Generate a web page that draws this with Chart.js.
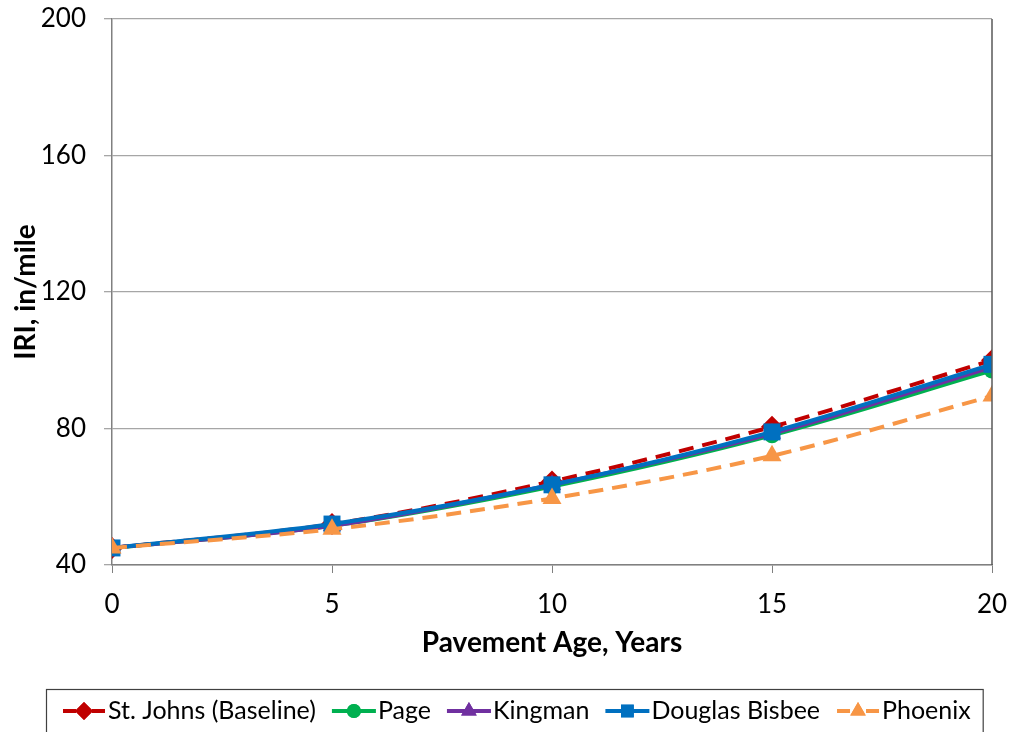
<!DOCTYPE html>
<html>
<head>
<meta charset="utf-8">
<script src="https://cdn.jsdelivr.net/npm/chart.js@4.4.1/dist/chart.umd.min.js"></script>
<style>
  html, body { margin: 0; padding: 0; background: #fff; }
  #wrap { width: 1010px; height: 732px; }
</style>
</head>
<body>
<div id="wrap"><canvas id="myChart" width="1010" height="732"></canvas></div>
<script>
'use strict';

// pavement age, years
let ages = [0, 5, 10, 15, 20];

// IRI values (in/mile)
let stJohns = [45, 52, 64.5, 80.5, 100];
let page = [45, 51.5, 63, 78, 97];
let kingman = [45, 51.5, 63.5, 78.5, 98];
let douglasBisbee = [45, 52, 63.5, 79, 98.8];
let phoenix = [45, 50.5, 59.5, 72, 89.5];

let yTicks = [40, 80, 120, 160, 200];
let xTicks = [0, 5, 10, 15, 20];

const FONT = 'Lato, "Open Sans", sans-serif';

function toPoints(values) {
  let pts = [];
  for (let i = 0; i < ages.length; i++) {
    pts.push({ x: ages[i], y: values[i] });
  }
  return pts;
}

function makeSet(label, values, color, marker, dashed, order, radius) {
  return {
    label: label,
    data: toPoints(values),
    borderColor: color,
    backgroundColor: color,
    borderWidth: 4,
    borderDash: dashed ? [15, 9] : [],
    pointStyle: marker,
    pointRadius: radius,
    pointBorderWidth: 0,
    cubicInterpolationMode: 'monotone',
    order: order,
    dashed: dashed
  };
}

const datasets = [
  makeSet('St. Johns (Baseline)', stJohns, '#C00000', 'rectRot', true, 4, 11),
  makeSet('Page', page, '#00B050', 'circle', false, 3, 8),
  makeSet('Kingman', kingman, '#7030A0', 'triangle', false, 2, 10.5),
  makeSet('Douglas Bisbee', douglasBisbee, '#0070C0', 'rect', false, 1, 12),
  makeSet('Phoenix', phoenix, '#F79646', 'triangle', true, 0, 11)
];

// legend marker: short line with the point in the middle
function drawIcon(ctx, x, y, ds) {
  ctx.save();
  ctx.strokeStyle = ds.borderColor;
  ctx.fillStyle = ds.borderColor;
  ctx.lineWidth = 4;
  ctx.beginPath();
  if (ds.dashed) {
    ctx.moveTo(x + 1, y); ctx.lineTo(x + 14, y);
    ctx.moveTo(x + 30, y); ctx.lineTo(x + 43, y);
  } else {
    ctx.moveTo(x, y); ctx.lineTo(x + 44, y);
  }
  ctx.stroke();
  ctx.restore();
  Chart.helpers.drawPoint(ctx, {
    pointStyle: ds.pointStyle,
    radius: ds.pointStyle === 'circle' ? 7 : 9,
    borderWidth: 0,
    rotation: 0
  }, x + 22, y);
  ctx.fill();
}

// right side border + hand drawn boxed legend
const framePlugin = {
  id: 'frame',
  afterDraw(chart) {
    const ctx = chart.ctx;
    const a = chart.chartArea;
    ctx.save();
    ctx.strokeStyle = '#595959';
    ctx.lineWidth = 1.5;
    ctx.beginPath();
    ctx.moveTo(a.right, a.top);
    ctx.lineTo(a.right, a.bottom);
    ctx.stroke();

    let rowY = 711;
    let x = 62;
    ctx.font = '25px ' + FONT;
    ctx.textBaseline = 'middle';
    ctx.textAlign = 'left';
    chart.data.datasets.forEach((ds, i) => {
      ctx.fillStyle = ds.borderColor;
      ctx.strokeStyle = ds.borderColor;
      drawIcon(ctx, x, rowY, ds);
      x += 46;
      ctx.fillStyle = '#000';
      ctx.fillText(ds.label, x, rowY);
      x += ctx.measureText(ds.label).width + 16;
    });
    ctx.strokeStyle = '#404040';
    ctx.lineWidth = 1.2;
    ctx.strokeRect(46.5, 689.5, x - 16 + 12 - 46, 60);
    ctx.restore();
  }
};

const ctx = document.getElementById('myChart');
const myChart = new Chart(ctx, {
  type: 'line',
  data: { datasets: datasets },
  plugins: [framePlugin],
  options: {
    responsive: false,
    animation: false,
    layout: { padding: { left: 0, right: 18, top: 19, bottom: 67 } },
    plugins: {
      tooltip: { enabled: false },
      legend: { display: false }
    },
    scales: {
      x: {
        type: 'linear',
        min: 0,
        max: 20,
        afterBuildTicks(scale) {
          scale.ticks = xTicks.map(v => ({ value: v }));
        },
        afterFit(scale) {
          scale.height = 100;
          scale.paddingLeft = 0;
          scale.paddingRight = 0;
        },
        grid: { drawOnChartArea: false, color: '#808080', tickLength: 8 },
        border: { color: '#808080', width: 1.5 },
        ticks: { color: '#000', font: { family: FONT, size: 26 }, padding: 16 },
        title: {
          display: true,
          text: 'Pavement Age, Years',
          color: '#000',
          font: { family: FONT, size: 28, weight: 'bold' },
          padding: { top: 0, bottom: 5 }
        }
      },
      y: {
        min: 40,
        max: 200,
        afterBuildTicks(scale) {
          scale.ticks = yTicks.map(v => ({ value: v }));
        },
        afterFit(scale) {
          scale.width = 112;
          scale.paddingTop = 0;
          scale.paddingBottom = 0;
        },
        grid: { color: '#A6A6A6', lineWidth: 1.3, tickLength: 8 },
        border: { color: '#808080', width: 1.5 },
        ticks: { color: '#000', font: { family: FONT, size: 26 }, padding: 18 },
        title: {
          display: true,
          text: 'IRI, in/mile',
          color: '#000',
          font: { family: FONT, size: 28, weight: 'bold' },
          padding: { top: 9, bottom: 0 }
        }
      }
    }
  }
});
</script>
</body>
</html>
